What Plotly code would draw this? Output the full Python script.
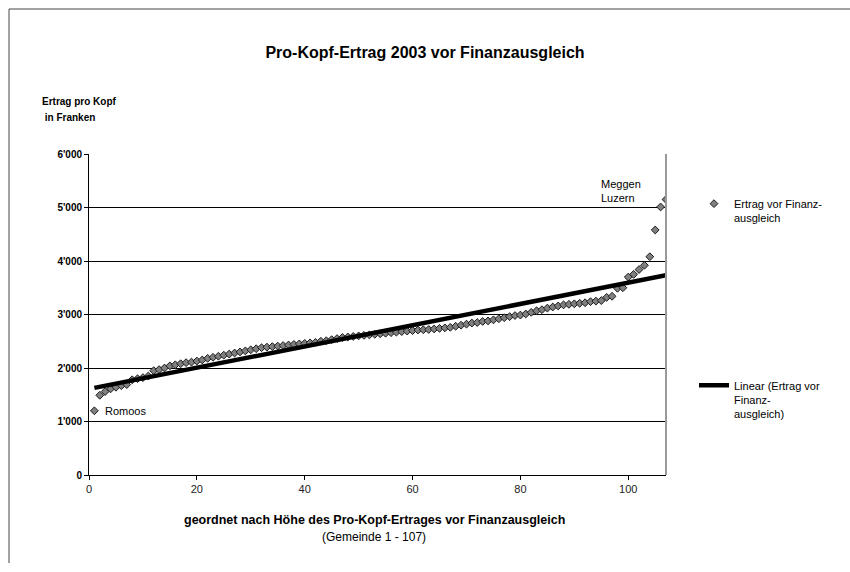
import numpy as np
import plotly.graph_objects as go

# Pro-Kopf-Ertrag der 107 Gemeinden (Franken), aufsteigend sortiert
gemeinde_rang = list(range(1, 108))
ertrag = [
    1200, 1490, 1560, 1610, 1640, 1670, 1690, 1780, 1800, 1820,
    1850, 1950, 1970, 2000, 2040, 2060, 2080, 2100, 2110, 2130,
    2150, 2180, 2200, 2220, 2240, 2260, 2280, 2300, 2320, 2340,
    2360, 2380, 2390, 2400, 2410, 2420, 2430, 2440, 2450, 2460,
    2470, 2480, 2500, 2510, 2530, 2550, 2570, 2580, 2590, 2600,
    2610, 2620, 2630, 2640, 2650, 2660, 2670, 2680, 2690, 2700,
    2710, 2715, 2720, 2730, 2740, 2750, 2760, 2780, 2800, 2820,
    2840, 2850, 2870, 2880, 2900, 2920, 2940, 2960, 2980, 2990,
    3010, 3040, 3070, 3090, 3120, 3140, 3160, 3180, 3190, 3200,
    3210, 3220, 3240, 3250, 3260, 3320, 3340, 3490, 3500, 3700,
    3750, 3840, 3920, 4080, 4580, 5010, 5150,
]

y_tickvals = [0, 1000, 2000, 3000, 4000, 5000, 6000]
y_ticktext = ["0", "1'000", "2'000", "3'000", "4'000", "5'000", "6'000"]
x_tickvals = [0, 20, 40, 60, 80, 100]

FONT = "Liberation Sans, Arial, sans-serif"
W, H = 850, 572
ML, MR, MT, MB = 89, 184, 154, 97
PW = W - ML - MR
PH = H - MT - MB

# linearer Trend (kleinste Quadrate)
xs = np.array(gemeinde_rang, dtype=float)
slope, intercept = np.polyfit(xs, np.array(ertrag, dtype=float), 1)
trend_x = [xs[0], xs[-1]]
trend_y = [intercept + slope * v for v in trend_x]

fig = go.Figure()
fig.add_trace(go.Scatter(
    x=gemeinde_rang, y=ertrag, mode="markers",
    name="Ertrag vor Finanz-<br>ausgleich",
    legendgroup="a",
    marker=dict(symbol="diamond", size=6, color="#808080",
                line=dict(color="#1a1a1a", width=1)),
))
fig.add_trace(go.Scatter(
    x=trend_x, y=trend_y, mode="lines",
    name="Linear (Ertrag vor<br>Finanz-<br>ausgleich)",
    legendgroup="b",
    line=dict(color="black", width=4.5),
))


def px_x(p):
    return (p - ML) / PW


def px_y(p):
    return 1 - (p - MT) / PH


annotations = [
    dict(text="<b>Ertrag pro Kopf</b>", xref="paper", yref="paper",
         x=px_x(40), y=px_y(101), xanchor="left", yanchor="middle",
         showarrow=False, font=dict(size=10, family=FONT)),
    dict(text="<b> in Franken</b>", xref="paper", yref="paper",
         x=px_x(40), y=px_y(117), xanchor="left", yanchor="middle",
         showarrow=False, font=dict(size=10, family=FONT)),
    dict(text="<b>geordnet nach Höhe des Pro-Kopf-Ertrages vor Finanzausgleich</b>",
         xref="paper", yref="paper", x=px_x(374), y=px_y(520),
         xanchor="center", yanchor="middle", showarrow=False,
         font=dict(size=12.5, family=FONT)),
    dict(text="(Gemeinde 1 - 107)", xref="paper", yref="paper", x=px_x(374),
         y=px_y(537), xanchor="center", yanchor="middle", showarrow=False,
         font=dict(size=12, family=FONT)),
    dict(text="Romoos", x=gemeinde_rang[0], y=ertrag[0], xanchor="left",
         yanchor="middle", xshift=9, showarrow=False,
         font=dict(size=11, family=FONT)),
    dict(text="Meggen<br>Luzern", x=94.6, y=ertrag[-1], xanchor="left",
         yanchor="bottom", yshift=-7, align="left", showarrow=False,
         font=dict(size=11, family=FONT)),
]

shapes = [
    # Rahmen des Diagrammbereichs
    dict(type="line", xref="paper", yref="paper", x0=px_x(9), x1=px_x(W + 5),
         y0=px_y(9), y1=px_y(9), line=dict(color="#444444", width=1)),
    dict(type="line", xref="paper", yref="paper", x0=px_x(9), x1=px_x(9),
         y0=px_y(9), y1=px_y(563), line=dict(color="#444444", width=1)),
    # rechte Begrenzung der Zeichenfläche
    dict(type="line", xref="paper", yref="paper", x0=1, x1=1, y0=0, y1=1,
         line=dict(color="#999999", width=2)),
]

fig.update_layout(
    width=W, height=H,
    margin=dict(l=ML, r=MR, t=MT, b=MB, pad=0),
    paper_bgcolor="white", plot_bgcolor="white",
    font=dict(family=FONT, color="black"),
    title=dict(text="<b>Pro-Kopf-Ertrag 2003 vor Finanzausgleich</b>",
               x=0.5, xref="container", y=1 - 52 / H, yref="container",
               xanchor="center", yanchor="middle",
               font=dict(size=16, family=FONT, color="black")),
    xaxis=dict(range=[0, 107], tickvals=x_tickvals, showgrid=False,
               zeroline=False, showline=True, linecolor="black", linewidth=1,
               ticks="outside", ticklen=4, tickcolor="black",
               tickfont=dict(size=11, family=FONT, color="#222222")),
    yaxis=dict(range=[0, 6000], tickvals=y_tickvals, ticktext=y_ticktext,
               showgrid=True, gridcolor="black", gridwidth=1, zeroline=False,
               showline=True, linecolor="black", linewidth=1,
               ticks="outside", ticklen=4, tickcolor="black",
               tickfont=dict(size=10, family=FONT, color="black",
                             weight="bold")),
    legend=dict(xref="container", yref="container", x=694 / W, y=1 - 190 / H,
                xanchor="left", yanchor="top", valign="top",
                font=dict(size=11, family=FONT, color="black"),
                tracegroupgap=150, traceorder="grouped",
                bgcolor="rgba(0,0,0,0)"),
    annotations=annotations,
    shapes=shapes,
)

fig.write_html("out.html")
